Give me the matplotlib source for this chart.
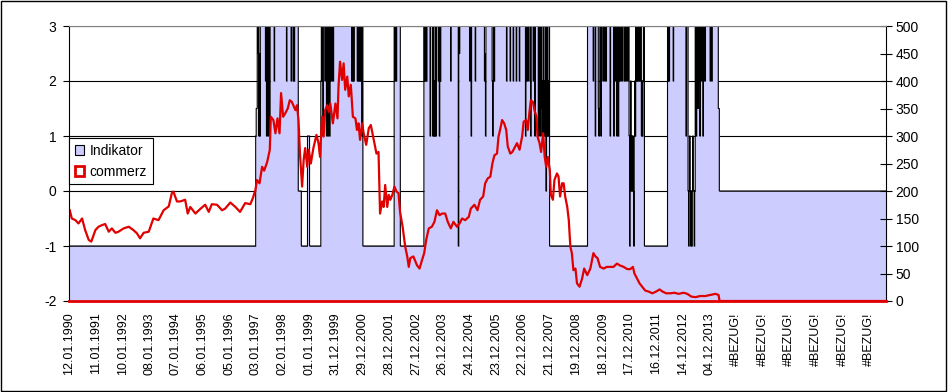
import numpy as np
import matplotlib.pyplot as plt
from matplotlib.patches import Patch, Rectangle

plt.rcParams['font.family'] = ['Liberation Sans', 'DejaVu Sans']
plt.rcParams['axes.unicode_minus'] = False

# weekly categories, one label every 52 weeks
n_weeks = 1593
tick_labels = ['12.01.1990', '11.01.1991', '10.01.1992', '08.01.1993', '07.01.1994',
               '06.01.1995', '05.01.1996', '03.01.1997', '02.01.1998', '01.01.1999',
               '31.12.1999', '29.12.2000', '28.12.2001', '27.12.2002', '26.12.2003',
               '24.12.2004', '23.12.2005', '22.12.2006', '21.12.2007', '19.12.2008',
               '18.12.2009', '17.12.2010', '16.12.2011', '14.12.2012', '04.12.2013',
               '#BEZUG!', '#BEZUG!', '#BEZUG!', '#BEZUG!', '#BEZUG!', '#BEZUG!']

# Indikator: week where a run starts, and its level (left axis)
ind_start = [0, 364, 365, 367, 368, 369, 370, 371, 372, 373,
             383, 384, 385, 386, 387, 388, 389, 390, 391, 392,
             400, 401, 424, 425, 433, 434, 437, 438, 439, 440,
             447, 453, 465, 469,
             491, 492, 494, 495, 496, 499, 500, 502, 503, 505, 506, 508, 509, 510, 512, 513, 515, 516,
             551, 552, 553, 554, 555, 556, 562, 563, 564, 565, 566, 567, 568, 569, 571, 572,
             573, 634, 636, 637, 638, 639, 646,
             692, 693, 694, 695, 696, 697, 698, 704, 705, 709, 710, 711, 712, 713, 714, 715, 716,
             720, 721, 722, 723, 724, 725, 744, 745, 759, 760, 761, 762,
             781, 782, 784, 785, 792, 793, 810, 811, 812, 813, 825, 826, 827, 828, 829, 830,
             853, 854, 860, 861, 866, 867, 872, 873, 878, 879,
             890, 891, 893, 894, 896, 897, 900, 901, 905, 906, 908, 909, 915, 916,
             918, 919, 920, 921, 922, 923, 924, 925, 926, 927, 928, 929, 930, 931, 932, 933, 934, 935, 936,
             937,
             1011, 1022, 1023, 1026, 1027, 1032, 1033, 1034, 1035, 1037, 1038, 1041, 1042, 1044, 1045,
             1047, 1048, 1055, 1056, 1062, 1063,
             1065, 1066, 1068, 1069, 1070, 1071, 1072, 1073, 1075, 1076, 1078, 1079, 1082, 1084, 1086,
             1087, 1089, 1090,
             1092, 1093, 1094, 1095, 1096, 1097, 1098, 1099, 1100, 1101, 1102, 1103, 1104,
             1105, 1106, 1107, 1108, 1109, 1110, 1111, 1112, 1114, 1116, 1117, 1118, 1119, 1120,
             1122,
             1167, 1168, 1169, 1170, 1171, 1178, 1179, 1203, 1204,
             1207, 1208, 1209, 1210, 1211, 1212, 1213, 1214, 1215, 1216, 1217, 1219, 1220,
             1221, 1222, 1223, 1224, 1225, 1226, 1227, 1229, 1230, 1231, 1233, 1234, 1236, 1237, 1238,
             1240, 1241, 1250, 1251, 1253, 1254,
             1266, 1268]
ind_value = [-1, 1, 1.5, 3, 2.5, 3, 1, 2.5, 1, 3,
             2, 3, 1, 2, 3, 1, 2, 3, 1, 3,
             2, 3, 2, 3, 2, 3, 2, 3, 2, 3,
             0, -1, 1, -1,
             2, 3, 2, 1, 3, 2, 3, 1, 3, 1, 3, 1, 2, 3, 2, 3, 2, 3,
             2, 3, 2, 3, 2, 3, 2, 3, 2, 3, 2, 3, 2, 3, 1, 3,
             -1, 3, 2, 3, 2, 3, -1,
             3, 2, 3, 2, 3, 2, 3, 1, 3, 1, 3, 1, 2, 1, 3, 1, 3,
             2, 3, 1, 3, 2, 3, 2, 3, -1, 3, 2.5, 3,
             2, 3, 1, 3, 2, 3, 2, 2.5, 1, 3, 2, 1, 2, 3, 2, 3,
             2, 3, 2, 3, 2, 3, 2, 3, 2, 3,
             1, 3, 2, 3, 2, 3, 1, 3, 2, 3, 1, 3, 1, 3,
             1, 3, 1.5, 3, 1, 2, 1, 3, 1, 2, 1, 3, 0, 1, 3, 1, 2, 1, 3,
             -1,
             3, 2, 3, 1, 3, 1.5, 1, 1.5, 3, 1, 3, 2, 3, 2, 3,
             2, 3, 1, 3, 1, 3,
             2, 3, 1, 2, 3, 1, 2, 3, 2, 3, 2, 3, 2, 3, 2,
             3, 2, 3,
             1, -1, 1, 2, 0, 1, 0, 1, 0, -1, 1, 2, 1,
             3, 2, 3, 2, 3, 2, 3, 2, 3, 1, 2, 1, 2, 3,
             -1,
             3, 2, 3, 2, 3, 2, 3, 1, 3,
             0, -1, 0, 1, 0, -1, 0, -1, 0, 1, 0, -1, 0,
             3, 2, 1, 3, 2, 1.5, 3, 2, 1, 3, 2, 3, 1, 2, 3,
             2, 3, 2, 3, 2, 3,
             1.5, 0]

# commerz (right axis), week index and price
commerz_week = [1, 5, 12, 18, 25, 31, 38, 43, 51, 57, 64, 70, 77, 83, 90, 96, 106, 116, 125, 132,
                138, 145, 155, 164, 174, 184, 194, 200, 203, 210, 216, 226,
                231, 236, 246, 255, 265, 272, 278, 288, 298, 304, 314, 324, 333, 343, 353, 358, 363,
                366, 371, 376, 380, 386, 391, 393, 398, 402, 406, 410, 413, 417, 421, 426, 430, 434, 441,
                444, 447, 450, 454, 457, 460, 464, 467, 471, 476, 482, 486, 489, 493, 496, 499, 503, 506,
                509, 514, 519, 523, 525, 528, 532, 535, 538, 542, 545, 549, 553, 558, 561, 564, 567, 571,
                574, 579, 584, 588, 593, 599, 603, 606, 610, 613, 616, 620, 623, 626, 630, 634, 638, 642,
                645, 650,
                655, 659, 662, 665, 671, 678, 683, 688, 692, 696, 701, 707, 712, 717, 722, 727, 733, 738,
                744, 749, 756, 761, 766, 772, 779, 783, 790, 796, 801, 807, 811, 816, 821, 825, 829, 834,
                837, 840, 844, 848, 852, 855, 860, 864, 868,
                873, 878, 883, 886, 891, 894, 897, 900, 904, 907, 911, 913, 917, 920, 924, 927, 930, 933,
                937, 939, 943, 946, 951, 954, 957, 961, 964, 967, 971, 974, 977, 980, 983, 987, 990, 995,
                1000, 1004, 1010, 1016, 1022, 1026, 1030, 1035, 1042, 1048, 1055, 1061, 1068, 1073,
                1081, 1088, 1094, 1099, 1102, 1107, 1112, 1117, 1123, 1130, 1137, 1144, 1151, 1157, 1164,
                1172, 1180, 1188, 1198, 1205, 1213, 1221, 1230, 1240, 1250, 1260, 1266, 1268, 1592]
commerz = [165, 150, 147, 141, 150, 129, 111, 108, 129, 135, 138, 140, 126, 132, 124, 126, 132, 135, 129, 123,
           114, 124, 126, 150, 147, 165, 172, 196, 199, 181, 181, 184,
           159, 171, 159, 167, 175, 162, 176, 175, 165, 168, 179, 171, 162, 178, 176, 187, 202,
           220, 214, 244, 237, 253, 275, 335, 329, 305, 332, 305, 378, 335, 341, 350, 365, 362, 347,
           356, 329, 265, 208, 256, 278, 244, 275, 250, 278, 302, 287, 262, 335, 299, 347, 356, 344,
           359, 323, 359, 332, 390, 435, 402, 432, 384, 408, 372, 393, 335, 332, 311, 323, 293, 323,
           305, 284, 314, 320, 296, 268, 271, 159, 181, 171, 211, 171, 193, 184, 193, 208, 199, 196,
           162, 135,
           99, 81, 62, 78, 81, 65, 59, 75, 87, 111, 132, 135, 144, 165, 156, 159, 159, 144,
           132, 144, 135, 141, 150, 147, 153, 168, 175, 165, 184, 190, 214, 223, 226, 250, 265, 268,
           299, 311, 329, 323, 311, 281, 268, 271, 278,
           287, 275, 299, 326, 329, 311, 341, 365, 362, 347, 335, 299, 287, 271, 305, 262, 244, 262,
           238, 193, 184, 220, 232, 226, 190, 214, 214, 190, 171, 147, 99, 87, 56, 59, 32, 26,
           41, 59, 47, 59, 87, 81, 78, 62, 59, 62, 62, 62, 68, 65,
           62, 58, 58, 62, 50, 41, 32, 26, 19, 17, 14, 17, 21, 17, 14,
           14, 15, 13, 15, 13, 8, 7, 9, 9, 11, 13, 11, 0, 0]

# expand the runs into one value per week
bounds = ind_start + [n_weeks]
indikator = np.empty(n_weeks)
for i, v in enumerate(ind_value):
    indikator[bounds[i]:bounds[i + 1]] = v
weeks = np.arange(n_weeks)

lavender = '#ccccff'
red = '#e00000'

fig = plt.figure(figsize=(9.48, 3.92), dpi=100)
ax = fig.add_axes([69 / 948, 1 - 301 / 392, 817 / 948, 275 / 392])

ax.fill_between(weeks, -2, indikator, step='mid', color=lavender, linewidth=0, zorder=2)
ax.step(weeks, indikator, where='mid', color='black', lw=0.8, zorder=3)

ax.set_xlim(-0.5, n_weeks - 0.5)
ax.set_ylim(-2, 3)
ax.set_yticks(range(-2, 4))
ax.grid(axis='y', color='black', lw=0.8, zorder=0)
ax.set_axisbelow(True)
ax.set_xticks(range(0, 52 * len(tick_labels), 52))
ax.set_xticklabels(tick_labels, rotation=90, fontsize=9)
ax.tick_params(axis='x', length=0, pad=8)
ax.tick_params(axis='y', direction='out', length=4, labelsize=10, pad=5)
for s in ax.spines.values():
    s.set_visible(False)

# commerz on the secondary axis
ax2 = ax.twinx()
ax2.plot(commerz_week, commerz, color=red, lw=1.6, zorder=4)
ax2.set_ylim(0, 500)
ax2.set_yticks(range(0, 501, 50))
ax2.tick_params(axis='y', direction='inout', length=8, labelsize=10, pad=3)
ax2.spines['top'].set_color('#808080')
ax2.spines['left'].set_color('black')
ax2.spines['right'].set_color('black')
ax2.spines['bottom'].set_color(red)
ax2.spines['bottom'].set_linewidth(2)
for s in ax2.spines.values():
    s.set_zorder(5)

handles = [Patch(facecolor=lavender, edgecolor='black', lw=0.8),
           Patch(facecolor='white', edgecolor=red, lw=2)]
leg = ax2.legend(handles, ['Indikator', 'commerz'], loc='lower left',
                 bbox_to_anchor=(0, 0.425), borderaxespad=0, fontsize=10,
                 fancybox=False, framealpha=1, edgecolor='black',
                 handlelength=0.7, handleheight=0.7, handletextpad=0.4,
                 borderpad=0.4, labelspacing=0.5)
leg.get_frame().set_linewidth(0.8)

# outer chart border
fig.patches.append(Rectangle((0.001, 0.002), 0.997, 0.995, transform=fig.transFigure,
                             fill=False, edgecolor='black', lw=1))

plt.savefig('out.png', dpi=100)
